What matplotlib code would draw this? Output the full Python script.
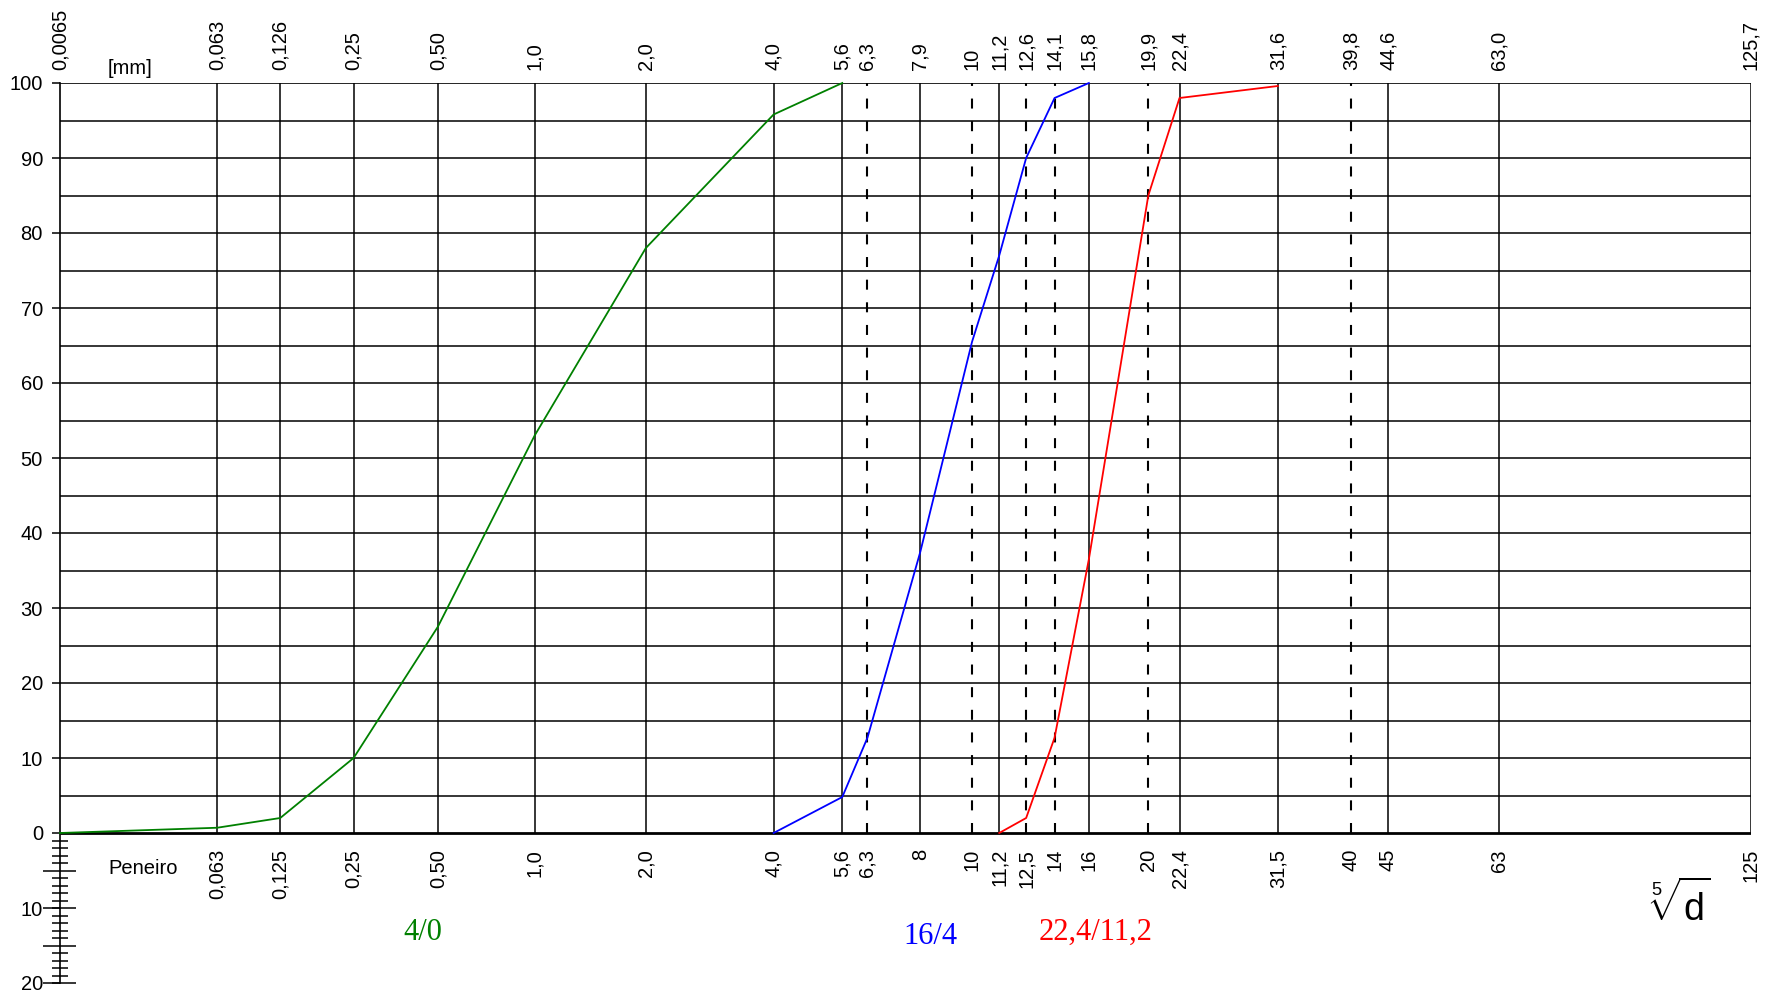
#!/usr/bin/env python3
"""
Grading curves (passing percentage) of three aggregate fractions,
drawn on a fifth-root sieve scale.
"""

import matplotlib.pyplot as plt
import numpy as np

plt.rcParams["font.family"] = ["Liberation Sans", "DejaVu Sans"]
plt.rcParams["lines.scale_dashes"] = False
plt.rcParams["mathtext.fontset"] = "custom"
plt.rcParams["mathtext.rm"] = "Liberation Sans"

# sieve lines [mm]
SOLID_SIEVES = [0.063, 0.125, 0.25, 0.5, 1.0, 2.0, 4.0, 5.6, 8, 11.2, 16,
                22.4, 31.5, 45, 63, 125]
DASHED_SIEVES = [6.3, 10, 12.5, 14, 20, 40]

TOP_TICKS = [0.0065, 0.063, 0.125, 0.25, 0.5, 1.0, 2.0, 4.0, 5.6, 6.3, 8,
             10, 11.2, 12.5, 14, 16, 20, 22.4, 31.5, 40, 45, 63, 125]
TOP_LABELS = ["0,0065", "0,063", "0,126", "0,25", "0,50", "1,0", "2,0",
              "4,0", "5,6", "6,3", "7,9", "10", "11,2", "12,6", "14,1",
              "15,8", "19,9", "22,4", "31,6", "39,8", "44,6", "63,0", "125,7"]
BOTTOM_TICKS = TOP_TICKS[1:]
BOTTOM_LABELS = ["0,063", "0,125", "0,25", "0,50", "1,0", "2,0", "4,0",
                 "5,6", "6,3", "8", "10", "11,2", "12,5", "14", "16", "20",
                 "22,4", "31,5", "40", "45", "63", "125"]

# fraction 4/0
SIEVE_A = [0.0065, 0.063, 0.125, 0.25, 0.5, 1.0, 2.0, 4.0, 5.6]
PASS_A = [0, 0.7, 2.0, 10.0, 27.5, 53.0, 78.0, 95.8, 100]

# fraction 16/4
SIEVE_B = [4.0, 5.6, 6.3, 8, 10, 11.2, 12.5, 14, 16]
PASS_B = [0, 4.8, 12.7, 37.5, 65.5, 77.0, 90.0, 98.0, 100]

# fraction 22,4/11,2
SIEVE_C = [11.2, 12.5, 14, 16, 20, 22.4, 31.5]
PASS_C = [0, 2.0, 12.7, 36.5, 85.0, 98.0, 99.6]

X_MIN, X_MAX = 0.0065, 125

FIG_W, FIG_H = 1775, 993
AX_LEFT, AX_RIGHT = 60, 1751          # px
AX_TOP, AX_BOTTOM = 83, 983           # px (y = 100 .. y = -20)


def fifth_root(x):
    x = np.asarray(x, dtype=float)
    return np.sign(x) * np.abs(x) ** 0.2


def fifth_power(u):
    u = np.asarray(u, dtype=float)
    return np.sign(u) * np.abs(u) ** 5


def ax_x(px):
    return (px - AX_LEFT) / (AX_RIGHT - AX_LEFT)


def data_y(py):
    return (833 - py) / 7.5


def main() -> None:
    fig = plt.figure(figsize=(FIG_W / 100, FIG_H / 100), dpi=100)
    ax = fig.add_axes([
        AX_LEFT / FIG_W,
        1 - AX_BOTTOM / FIG_H,
        (AX_RIGHT - AX_LEFT) / FIG_W,
        (AX_BOTTOM - AX_TOP) / FIG_H,
    ])
    ax.set_xscale("function", functions=(fifth_root, fifth_power))
    ax.set_xlim(X_MIN, X_MAX)
    ax.set_ylim(-20, 100)

    for side in ["top", "right", "bottom"]:
        ax.spines[side].set_visible(False)
    ax.spines["left"].set_linewidth(1.2)
    ax.set_xticks([])

    yt = list(range(-20, 101, 10))
    ax.set_yticks(yt)
    ax.set_yticklabels([str(abs(v)) for v in yt])
    ax.tick_params(axis="y", direction="out", length=5.8, width=1.1,
                   pad=6.5, labelsize=14.5)

    # grid
    ax.hlines(np.arange(5, 100, 5), X_MIN, X_MAX, color="black", lw=1.1, zorder=1)
    ax.hlines([100], X_MIN, X_MAX, color="black", lw=1.2, zorder=1)
    ax.hlines([0], X_MIN, X_MAX, color="black", lw=2.0, zorder=3)
    ax.vlines(SOLID_SIEVES, 0, 100, color="black", lw=1.1, zorder=1)
    ax.vlines(DASHED_SIEVES, 0, 100, color="black", lw=1.5,
              linestyles=[(0, (7.2, 9.1))], zorder=1)

    # ruler below zero
    trans = ax.get_yaxis_transform()
    w = AX_RIGHT - AX_LEFT
    for v in range(1, 21):
        if v % 5 == 0:
            x0, x1 = -17 / w, 16 / w
        else:
            x0, x1 = -8 / w, 8 / w
        ax.plot([x0, x1], [-v, -v], color="black", lw=1.1,
                transform=trans, clip_on=False, solid_capstyle="butt")

    # grading curves
    ax.plot(SIEVE_A, PASS_A, color="#008000", lw=1.3, zorder=4, clip_on=False)
    ax.plot(SIEVE_B, PASS_B, color="#0000ff", lw=1.3, zorder=4, clip_on=False)
    ax.plot(SIEVE_C, PASS_C, color="#ff0000", lw=1.3, zorder=4, clip_on=False)

    # sieve labels
    for x, lab in zip(TOP_TICKS, TOP_LABELS):
        ax.text(x, data_y(70), lab, rotation=90, ha="center", va="bottom",
                fontsize=14.5, clip_on=False)
    for x, lab in zip(BOTTOM_TICKS, BOTTOM_LABELS):
        ax.text(x, data_y(849), lab, rotation=90, ha="center", va="top",
                fontsize=14.5, clip_on=False)

    ax.text(ax_x(130), data_y(68), "[mm]", transform=trans, ha="center",
            va="center", fontsize=14.5)
    ax.text(ax_x(143), data_y(868), "Peneiro", transform=trans, ha="center",
            va="center", fontsize=14.5)

    serif = ["Liberation Serif", "DejaVu Serif"]
    ax.text(ax_x(423), data_y(932), "4/0", transform=trans, ha="center",
            va="center", fontsize=22, color="#008000", family=serif)
    ax.text(ax_x(930), data_y(936), "16/4", transform=trans, ha="center",
            va="center", fontsize=22, color="#0000ff", family=serif)
    ax.text(ax_x(1096), data_y(932), "22,4/11,2", transform=trans, ha="center",
            va="center", fontsize=22, color="#ff0000", family=serif)
    ax.text(ax_x(1680), data_y(905), r"$\sqrt[5]{\mathrm{d}}$", transform=trans,
            ha="center", va="center", fontsize=27)

    fig.savefig("out.png", dpi=100)
    plt.close(fig)


if __name__ == "__main__":
    main()
